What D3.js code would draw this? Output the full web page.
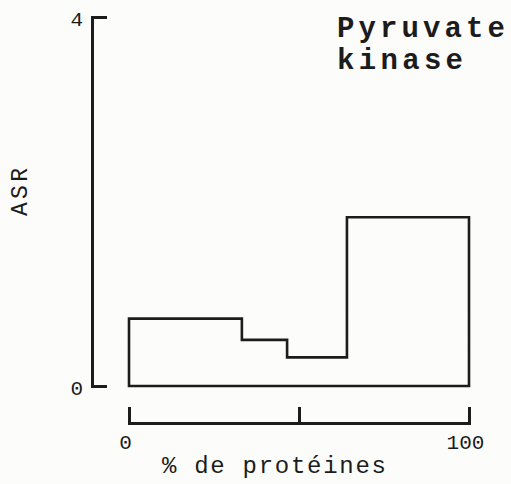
<!DOCTYPE html>
<html>
<head>
<meta charset="utf-8">
<script src="https://cdn.jsdelivr.net/npm/d3@7"></script>
<style>
  html, body { margin: 0; padding: 0; background: #fcfcfa; }
  svg { display: block; }
  text { font-family: "Courier New", "Liberation Mono", monospace; fill: #1c1c1c; }
</style>
</head>
<body>
<svg id="chart" width="511" height="484"></svg>
<script>
// Fraction boundaries (cumulative % of protein) and relative specific activity per fraction
const binEdges = [0, 33.2, 46.5, 64.1, 100];
const asrValues = [0.73, 0.50, 0.31, 1.83];
const yTicks = [0, 4];
const xTicks = [0, 50, 100];
const xTickLabels = ["0", "", "100"];
const titleLines = ["Pyruvate", "kinase"];

const ink = "#1c1c1c";
const svg = d3.select("#chart");

const x = d3.scaleLinear().domain([0, 100]).range([129, 469]);
const y = d3.scaleLinear().domain([0, 4]).range([386, 17]);

// Y axis: bracket-shaped, ticks pointing inward
const yAxis = d3.axisLeft(y)
  .tickValues(yTicks)
  .tickSizeInner(-15)
  .tickSizeOuter(-15)
  .tickPadding(9)
  .tickFormat(d3.format("d"));

const gy = svg.append("g").attr("transform", "translate(92,0)").call(yAxis);
gy.select(".domain").attr("stroke", ink).attr("stroke-width", 3).attr("fill", "none");
gy.selectAll(".tick line").attr("stroke", ink).attr("stroke-width", 3);
gy.selectAll(".tick text")
  .style("font-size", "21px")
  .attr("dy", "0.42em")
  .attr("fill", ink);

// X axis: separate scale bar below the histogram
const xAxis = d3.axisBottom(x)
  .tickValues(xTicks)
  .tickSizeInner(-16)
  .tickSizeOuter(-16)
  .tickPadding(11)
  .tickFormat((d, i) => xTickLabels[i]);

const gx = svg.append("g").attr("transform", "translate(0,423)").call(xAxis);
gx.select(".domain").attr("stroke", ink).attr("stroke-width", 3).attr("fill", "none");
gx.selectAll(".tick line").attr("stroke", ink).attr("stroke-width", 3);
gx.selectAll(".tick text")
  .style("font-size", "21px")
  .attr("dx", -4)
  .attr("fill", ink);

// Histogram outline built from the bins
const pts = [[binEdges[0], 0]];
asrValues.forEach((v, i) => {
  pts.push([binEdges[i], v]);
  pts.push([binEdges[i + 1], v]);
});
pts.push([binEdges[binEdges.length - 1], 0]);

const line = d3.line().x(d => x(d[0])).y(d => y(d[1]));
svg.append("path")
  .attr("d", line(pts) + "Z")
  .attr("fill", "none")
  .attr("stroke", ink)
  .attr("stroke-width", 2.6)
  .attr("stroke-linejoin", "miter");

// Axis titles
svg.append("text")
  .attr("transform", "translate(27,192) rotate(-90)")
  .attr("text-anchor", "middle")
  .attr("textLength", 48)
  .attr("lengthAdjust", "spacing")
  .style("font-size", "23px")
  .text("ASR");

svg.append("text")
  .attr("x", 162)
  .attr("y", 473)
  .attr("textLength", 224)
  .attr("lengthAdjust", "spacing")
  .style("font-size", "24px")
  .text("% de protéines");

// Enzyme name
const titleLens = [168, 126];
svg.selectAll("text.title")
  .data(titleLines)
  .join("text")
  .attr("class", "title")
  .attr("x", 337)
  .attr("y", (d, i) => 37 + i * 32)
  .attr("textLength", (d, i) => titleLens[i])
  .attr("lengthAdjust", "spacing")
  .style("font-size", "29px")
  .style("font-weight", "bold")
  .text(d => d);
</script>
</body>
</html>
